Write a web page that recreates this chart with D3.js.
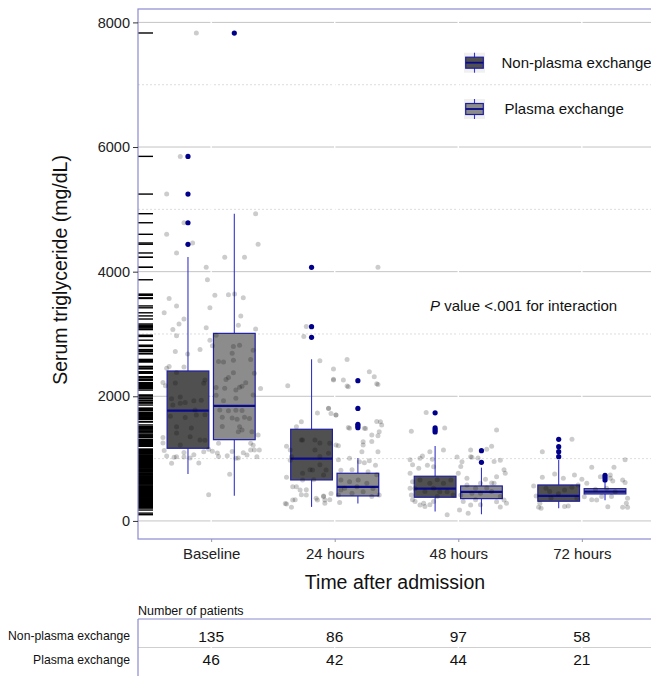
<!DOCTYPE html>
<html><head><meta charset="utf-8">
<script src="https://cdn.jsdelivr.net/npm/d3@7"></script>
<style>
html,body{margin:0;padding:0;background:#fff;}
svg{display:block;font-family:"Liberation Sans",Arial,sans-serif;}
</style></head>
<body><svg id="c" width="651" height="676"></svg>
<script>
const categories = ["Baseline", "24 hours", "48 hours", "72 hours"];
const groups = ["Non-plasma exchange", "Plasma exchange"];
const yTicks = [0, 2000, 4000, 6000, 8000];
const yMinorTicks = [1000, 3000, 5000, 7000];

// box statistics per category (Baseline, 24h, 48h, 72h)
const q1NP  = [1166, 658, 380, 316];
const medNP = [1770, 1000, 518, 401];
const q3NP  = [2406, 1471, 717, 577];
const loNP  = [754, 225, 150, 204];
const hiNP  = [4235, 2594, 1203, 978];
const outNP = [[4438, 4785, 5245, 5850], [2947, 3117, 4070], [1428, 1460, 1492, 1735], [1031, 1112, 1192, 1310]];

const q1PE  = [1304, 401, 358, 433];
const medPE = [1845, 545, 465, 470];
const q3PE  = [3010, 765, 561, 518];
const loPE  = [406, 278, 107, 332];
const hiPE  = [4930, 1010, 855, 642];
const outPE = [[7828], [1497, 1525, 1550, 1805, 2250], [941, 1128], [658, 695, 733]];

const nNP = [135, 86, 97, 58];
const nPE = [46, 42, 44, 21];

// jittered observations: [offset in category units, value mg/dL]
const ptsBaseline = [[-0.12,7830],[-0.25,5850],[-0.36,5245],[-0.22,4785],[-0.36,4600],[-0.15,4460],[-0.28,4300],[0.36,4930],[0.38,4440],[0.11,4230],[0.27,4230],[-0.04,4070],[-0.03,3870],[-0.34,3570],[0.03,3620],[0.14,3630],[0.19,3640],[0.26,3580],[-0.28,3450],[-0.01,3420],[-0.38,3340],[0.24,3290],[-0.22,3240],[-0.26,3160],[0.22,3140],[-0.04,3100],[0.36,3080],[-0.31,3070],
[-0.28,2970],[-0.01,2900],[0.01,2810],[-0.29,2720],[-0.09,2750],[-0.19,2680],[-0.36,2450],[-0.34,2480],[-0.22,2470],[-0.28,2380],[-0.39,2220],[-0.37,2170],[-0.05,2260],[-0.06,2210],[-0.29,2215],[-0.25,1990],[-0.32,1960],[-0.31,1860],[-0.25,1890],[-0.21,1900],[-0.14,1930],[-0.08,1935],[-0.13,1780],[-0.33,1680],[-0.21,1660],[-0.12,1700],[-0.05,1705],[-0.28,1510],[-0.16,1490],[-0.28,1410],[-0.17,1350],[-0.39,1340],[-0.09,1300],[-0.05,1295],[-0.25,1220],[-0.39,1250],[-0.38,1130],[-0.30,1020],[-0.28,1030],[-0.22,1100],[-0.14,1060],[-0.22,1025],[-0.36,1040],[-0.17,1010],[-0.10,930],[-0.32,925],[-0.06,1110],[-0.02,1150],[0.01,1120],[0.05,1090],[0.06,1035],[0.13,1045],[0.17,1115],[0.20,1005],[0.26,1095],[0.29,1058],[0.32,1140],[0.34,1215],[0.37,1028],[0.39,1138],[0.15,750],[-0.02,420],
[0.04,2980],[0.18,2800],[0.23,2820],[0.06,2560],[0.10,2550],[0.17,2690],[0.18,2580],[0.32,2590],[0.34,2740],[0.35,2370],[0.18,2378],[0.12,2270],[0.14,2300],[0.28,2218],[0.04,2140],[0.11,2130],[0.20,2100],[0.23,2145],[0.25,2160],[0.40,2125],[0.34,2020],[0.10,1928],[0.20,1970],[0.07,1782],[0.14,1770],[0.20,1778],[0.25,1772],[0.09,1665],[0.17,1650],[0.21,1630],[0.27,1662],[0.31,1645],[0.23,1512],[0.22,1430],[0.33,1432],[0.09,1515],[0.25,1460],[0.38,1380],[0.06,1245],[0.32,1248],[0.35,1139],[0.04,2015],[0.22,1008]];

const pts24h = [[-0.38,2170],[-0.12,2570],[-0.25,2960],[-0.23,3120],[-0.14,1730],[-0.05,1810],[-0.27,1590],[-0.31,1510],[-0.39,1200],[-0.35,1030],[-0.39,700],[-0.34,550],[-0.40,280],[-0.35,220],[-0.32,340],[-0.27,420],[-0.23,500],[-0.09,400],[-0.14,335],[-0.08,285],[-0.04,338],[-0.26,765],[-0.20,820],[-0.17,660],[-0.12,900],[-0.26,1300],[-0.16,1140],[-0.12,1250],[-0.05,1085],[-0.01,2260],[0.10,2165],[0.34,2200],[-0.05,1805],[-0.03,1725],[0.01,1700],[0.11,1500],[0.34,1595],[0.38,1540],[0.25,1485],[0.30,1380],[0.35,1365],[0.23,1270],[0.03,1205],[0.22,1110],[0.03,980],[0.12,1005],[0.20,950],[0.24,935],[0.28,965],[0.33,895],[0.05,815],[0.14,820],[0.27,790],[0.34,740],[0.05,655],[0.12,630],[0.19,658],[0.08,525],[0.18,550],[0.26,605],[0.31,520],[0.03,415],[0.05,497],[0.14,445],[0.23,470],[0.30,390],[0.36,418],[-0.09,392],[-0.15,364],[-0.08,337],[0.04,295],[-0.03,440],[-0.34,336],[-0.39,272],[-0.23,416],[-0.28,495],[-0.31,548],[-0.26,656],[-0.09,737],[-0.36,975],[-0.27,1298],[-0.16,1299],[-0.04,1245],[-0.36,1139],[-0.18,817],[-0.07,819],[-0.12,1032],[0.10,2590],[-0.01,2440],[-0.01,2275],[0.07,2262],[0.11,2155],[0.28,2395],[0.32,2315],[0.35,2190],[0.01,1698],[0.12,1488],[0.24,1486],[0.37,1593],[0.36,1432],[0.30,1274],[0.23,1220],[0.35,1112],[0.01,1218],[0.35,4070]];

const pts48h = [[-0.38,1440],[-0.26,1740],[-0.11,1490],[0.31,1460],[0.27,1200],[0.23,1150],[-0.12,1140],[-0.23,1110],[0.11,1020],[0.03,950],[-0.01,1025],[-0.39,980],[-0.31,1005],[0.29,952],[0.34,975],[0.10,1138],[-0.29,1040],[-0.21,990],[0.10,1030],[0.16,1008],[0.37,820],[0.38,765],[0.31,710],[0.29,605],[-0.37,900],[-0.32,845],[-0.25,895],[-0.20,870],[0.02,872],[0.00,766],[-0.39,764],[-0.37,630],[-0.39,525],[-0.38,415],[-0.37,338],[-0.35,310],[-0.31,255],[-0.27,230],[-0.23,258],[-0.28,285],[-0.20,312],[-0.17,390],[-0.31,658],[-0.23,604],[-0.17,660],[-0.12,606],[-0.06,657],[-0.09,470],[-0.27,472],[-0.15,468],[-0.04,418],[-0.35,522],[-0.20,526],[-0.09,100],[0.01,175],[0.08,125],[0.10,256],[0.04,311],[0.02,416],[0.11,445],[0.07,578],[0.14,523],[0.07,685],[0.18,603],[0.23,527],[0.27,471],[0.34,392],[0.31,309],[0.37,336],[0.39,283],[0.34,222],[0.18,443],[0.22,670],[0.27,607],[0.18,259],[0.14,339]];

const pts72h = [[-0.32,1110],[-0.08,1310],[0.08,860],[0.26,862],[0.35,980],[0.15,710],[0.23,685],[-0.22,755],[-0.06,738],[-0.32,700],[-0.15,686],[0.04,605],[0.00,668],[0.23,739],[0.25,640],[0.33,658],[0.35,615],[-0.39,560],[-0.29,525],[-0.14,498],[-0.08,540],[-0.19,435],[-0.37,400],[0.11,510],[0.20,526],[0.27,470],[0.16,390],[0.24,391],[0.37,364],[0.36,285],[0.33,220],[0.37,218],[-0.34,282],[-0.35,221],[-0.33,205],[-0.14,230],[-0.11,240],[0.08,338],[0.12,335],[0.21,228],[-0.03,578],[0.02,388],[-0.26,472],[-0.04,362],[-0.25,366]];

const pointsByCat = [ptsBaseline, pts24h, pts48h, pts72h];

// ---------- drawing ----------
const svg = d3.select("#c");
const P = {left: 138, top: 9, bottom: 539, right: 656};

const x = d3.scalePoint().domain(categories).range([137, 656]).padding(0.6);
const step = x.step();
const dodge = d3.scaleBand().domain(groups).range([-0.375 * step, 0.375 * step]);
const y = d3.scaleLinear().domain([-290, 8215]).range([P.bottom, P.top]);

const fills = {"Non-plasma exchange": "#505050", "Plasma exchange": "#8c8c8c"};
const boxStroke = "#1f1f9e";
const whiskerColor = "#3535c8";
const medianColor = "#0a0a8c";
const outlierColor = "#00008b";
const borderColor = "#8a8ad0";

// grid
const g = svg.append("g");
g.selectAll(".minor").data(yMinorTicks).join("line")
  .attr("x1", P.left).attr("x2", P.right)
  .attr("y1", d => y(d)).attr("y2", d => y(d))
  .attr("stroke", "#d4d4d4").attr("stroke-width", 0.8).attr("stroke-dasharray", "2,2");
g.selectAll(".major").data(yTicks).join("line")
  .attr("x1", P.left).attr("x2", P.right)
  .attr("y1", d => y(d)).attr("y2", d => y(d))
  .attr("stroke", "#c4c4c4").attr("stroke-width", 1);
g.selectAll(".vgrid").data(categories).join("line")
  .attr("x1", d => x(d)).attr("x2", d => x(d))
  .attr("y1", P.top).attr("y2", P.bottom)
  .attr("stroke", "#ffffff").attr("stroke-width", 1.4);

// rug of all observations
const allVals = pointsByCat.flat().map(d => d[1]);
g.append("g").selectAll("line").data(allVals).join("line")
  .attr("x1", P.left).attr("x2", P.left + 15)
  .attr("y1", d => y(d)).attr("y2", d => y(d))
  .attr("stroke", "#000").attr("stroke-width", 1.4);

// boxplots
const stats = [
  {group: groups[0], q1: q1NP, med: medNP, q3: q3NP, lo: loNP, hi: hiNP, out: outNP},
  {group: groups[1], q1: q1PE, med: medPE, q3: q3PE, lo: loPE, hi: hiPE, out: outPE}
];
const bw = dodge.bandwidth() * 0.9;
stats.forEach(s => {
  categories.forEach((c, i) => {
    const cx = x(c) + dodge(s.group) + dodge.bandwidth() / 2;
    const bg = svg.append("g");
    bg.append("line").attr("x1", cx).attr("x2", cx).attr("y1", y(s.hi[i])).attr("y2", y(s.q3[i]))
      .attr("stroke", whiskerColor).attr("stroke-width", 1.1);
    bg.append("line").attr("x1", cx).attr("x2", cx).attr("y1", y(s.q1[i])).attr("y2", y(s.lo[i]))
      .attr("stroke", whiskerColor).attr("stroke-width", 1.1);
    bg.append("rect").attr("x", cx - bw / 2).attr("width", bw)
      .attr("y", y(s.q3[i])).attr("height", y(s.q1[i]) - y(s.q3[i]))
      .attr("fill", fills[s.group]).attr("stroke", boxStroke).attr("stroke-width", 1.2);
    bg.append("line").attr("x1", cx - bw / 2).attr("x2", cx + bw / 2)
      .attr("y1", y(s.med[i])).attr("y2", y(s.med[i]))
      .attr("stroke", medianColor).attr("stroke-width", 2.2);
    bg.selectAll("circle").data(s.out[i]).join("circle")
      .attr("cx", cx).attr("cy", d => y(d)).attr("r", 2.6).attr("fill", outlierColor);
  });
});

// jittered points
categories.forEach((c, i) => {
  svg.append("g").selectAll("circle").data(pointsByCat[i]).join("circle")
    .attr("cx", d => x(c) + d[0] * step).attr("cy", d => y(d[1])).attr("r", 2.5)
    .attr("fill", "#000").attr("fill-opacity", 0.2);
});

// panel border
svg.append("rect").attr("x", P.left).attr("y", P.top)
  .attr("width", P.right - P.left).attr("height", P.bottom - P.top)
  .attr("fill", "none").attr("stroke", borderColor).attr("stroke-width", 1.2);

// y axis
const yAxis = svg.append("g").attr("transform", `translate(${P.left},0)`)
  .call(d3.axisLeft(y).tickValues(yTicks).tickSize(5).tickPadding(3).tickFormat(d3.format("d")));
yAxis.select(".domain").remove();
yAxis.selectAll(".tick line").attr("stroke", "#333");
yAxis.selectAll(".tick text").attr("font-size", 14.5).attr("fill", "#222")
  .attr("font-family", "'Liberation Sans', Arial, sans-serif");

// x axis
const xAxis = svg.append("g").attr("transform", `translate(0,${P.bottom})`)
  .call(d3.axisBottom(x).tickSize(3).tickPadding(6));
xAxis.select(".domain").remove();
xAxis.selectAll(".tick line").attr("stroke", "#999");
xAxis.selectAll(".tick text").attr("font-size", 15).attr("fill", "#222")
  .attr("font-family", "'Liberation Sans', Arial, sans-serif");

// titles
svg.append("text").attr("transform", "translate(67,270) rotate(-90)")
  .attr("text-anchor", "middle").attr("font-size", 19.5).attr("fill", "#111")
  .text("Serum triglyceride (mg/dL)");
svg.append("text").attr("x", 395).attr("y", 588.5)
  .attr("text-anchor", "middle").attr("font-size", 19.5).attr("fill", "#111")
  .text("Time after admission");

// P value annotation
const pt = svg.append("text").attr("x", 430).attr("y", 311).attr("font-size", 15).attr("fill", "#111");
pt.append("tspan").attr("font-style", "italic").text("P");
pt.append("tspan").text(" value <.001 for interaction");

// legend
const legY = [62.7, 109];
groups.forEach((gname, i) => {
  const lg = svg.append("g").attr("transform", `translate(474.5,${legY[i]})`);
  lg.append("rect").attr("x", -10.5).attr("y", -10).attr("width", 21).attr("height", 20).attr("fill", "#f0f0f0");
  lg.append("line").attr("x1", 0).attr("x2", 0).attr("y1", -10).attr("y2", 10).attr("stroke", whiskerColor).attr("stroke-width", 1.1);
  lg.append("rect").attr("x", -8.8).attr("y", -5.5).attr("width", 17.6).attr("height", 11)
    .attr("fill", fills[gname]).attr("stroke", boxStroke).attr("stroke-width", 1.2);
  lg.append("line").attr("x1", -8.8).attr("x2", 8.8).attr("y1", 0).attr("y2", 0).attr("stroke", medianColor).attr("stroke-width", 1.8);
  svg.append("text").attr("x", i === 0 ? 501.5 : 504.5).attr("y", legY[i] + 5.3)
    .attr("font-size", 15).attr("fill", "#111").text(gname);
});

// number-at-risk table
svg.append("text").attr("x", 138).attr("y", 615).attr("font-size", 12.5).attr("fill", "#111").text("Number of patients");
const tY = [619, 647.5];
svg.append("line").attr("x1", P.left).attr("x2", 651).attr("y1", tY[1]).attr("y2", tY[1]).attr("stroke", "#cfcfcf").attr("stroke-width", 1);
svg.selectAll(".tv").data(categories).join("line")
  .attr("x1", d => x(d)).attr("x2", d => x(d)).attr("y1", 620).attr("y2", 676)
  .attr("stroke", "#fff").attr("stroke-width", 1.2);
svg.append("line").attr("x1", P.left).attr("x2", 651).attr("y1", tY[0]).attr("y2", tY[0]).attr("stroke", borderColor).attr("stroke-width", 1.2);
svg.append("line").attr("x1", P.left).attr("x2", P.left).attr("y1", tY[0]).attr("y2", 676).attr("stroke", borderColor).attr("stroke-width", 1.2);

const rowY = [641.5, 665.3];
const rowN = [nNP, nPE];
groups.forEach((gname, r) => {
  svg.append("text").attr("x", 130).attr("y", rowY[r] - 1.3).attr("text-anchor", "end")
    .attr("font-size", 12.2).attr("fill", "#111").text(gname);
  svg.append("g").selectAll("text").data(categories).join("text")
    .attr("x", d => x(d)).attr("y", rowY[r]).attr("text-anchor", "middle")
    .attr("font-size", 15.5).attr("fill", "#111").text((d, i) => rowN[r][i]);
});
</script></body></html>
